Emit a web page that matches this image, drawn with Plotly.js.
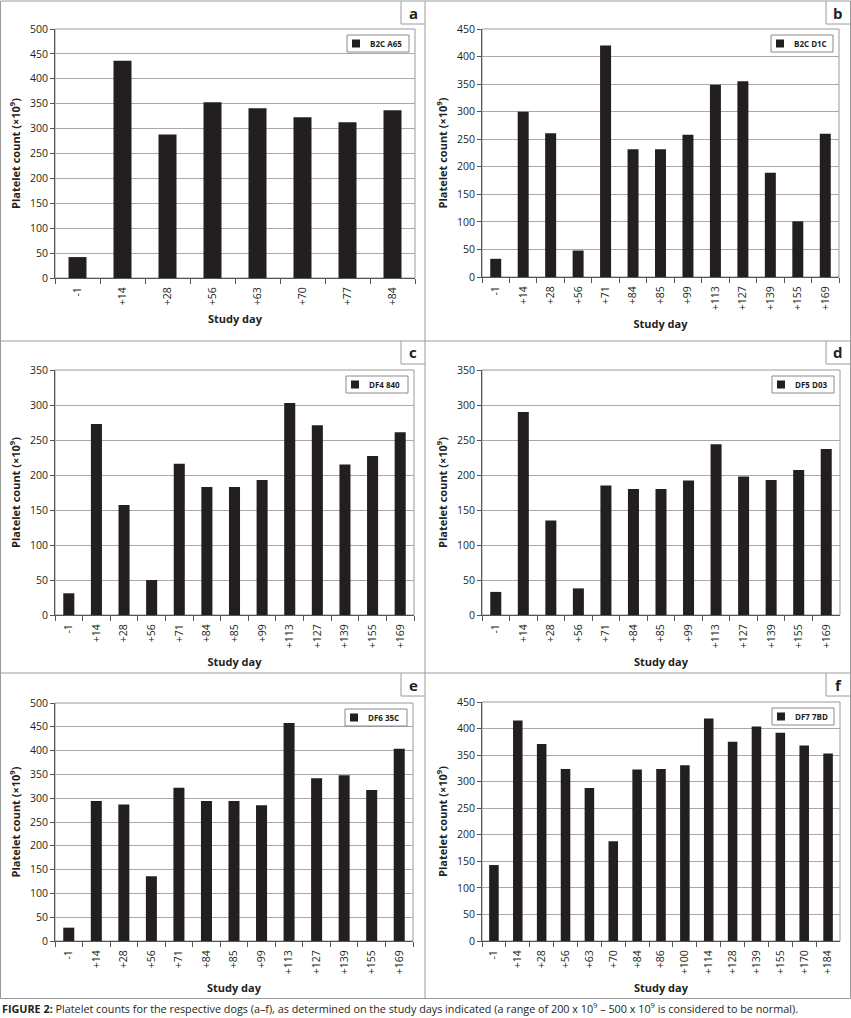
<!DOCTYPE html>
<html>
<head>
<meta charset="utf-8">
<script src="https://cdn.plot.ly/plotly-3.0.1.min.js"></script>
<style>
html,body{margin:0;padding:0;background:#fff;}
#chart{width:851px;height:1018px;}
</style>
</head>
<body>
<div id="chart"></div>
<script>
// ---------- data ----------
var panelLetters = ['a', 'b', 'c', 'd', 'e', 'f'];
var dogNames = ['B2C A65', 'B2C D1C', 'DF4 840', 'DF5 D03', 'DF6 35C', 'DF7 7BD'];

var daysA = ['-1', '+14', '+28', '+56', '+63', '+70', '+77', '+84'];
var daysBtoE = ['-1', '+14', '+28', '+56', '+71', '+84', '+85', '+99', '+113', '+127', '+139', '+155', '+169'];
var daysF = ['-1', '+14', '+28', '+56', '+63', '+70', '+84', '+86', '+100', '+114', '+128', '+139', '+155', '+170', '+184'];

var countsA = [42, 436, 288, 353, 341, 323, 313, 337];
var countsB = [33, 300, 261, 48, 420, 232, 232, 258, 349, 355, 189, 101, 260];
var countsC = [31, 273, 157, 50, 216, 183, 183, 193, 303, 271, 215, 227, 261];
var countsD = [33, 290, 135, 38, 185, 180, 180, 192, 244, 198, 193, 207, 237];
var countsE = [28, 294, 287, 136, 322, 294, 294, 285, 458, 342, 348, 317, 404];
var countsF = [143, 415, 371, 324, 288, 188, 323, 324, 331, 419, 375, 404, 392, 368, 353];

var yMax = [500, 450, 350, 350, 500, 450];

var captionText = '<b>FIGURE 2:</b> Platelet counts for the respective dogs (a–f), as determined on the study days indicated (a range of 200 x 10<sup>9</sup> – 500 x 10<sup>9</sup> is considered to be normal).';

// ---------- layout geometry (pixels) ----------
var W = 851, H = 1018;
var boxes = [
  {x0: 55, x1: 415, y0: 29, y1: 278},
  {x0: 482, x1: 839, y0: 29, y1: 277},
  {x0: 55, x1: 414, y0: 370, y1: 615},
  {x0: 482, x1: 840, y0: 370, y1: 615},
  {x0: 55, x1: 413, y0: 703, y1: 941},
  {x0: 482, x1: 840, y0: 702, y1: 941}
];
var panelTopEdges = [1, 1, 341, 341, 673, 673];
var panelRightEdges = [425, 850, 425, 850, 425, 850];

function px(x) { return x / W; }
function py(y) { return 1 - y / H; }

var allDays = [daysA, daysBtoE, daysBtoE, daysBtoE, daysBtoE, daysF];
var allCounts = [countsA, countsB, countsC, countsD, countsE, countsF];

var FONT = 'Open Sans, Liberation Sans, sans-serif';
var DARK = '#231f20';
var GRID = '#a8a8a8';
var BORDER = '#9a9a9a';

var traces = [];
var layout = {
  width: W, height: H,
  margin: {l: 0, r: 0, t: 0, b: 0},
  paper_bgcolor: '#fff',
  plot_bgcolor: '#fff',
  bargap: 0.6,
  showlegend: false,
  font: {family: FONT, color: DARK, size: 10},
  shapes: [],
  annotations: []
};

function line(x0, y0, x1, y1, color) {
  return {type: 'line', xref: 'paper', yref: 'paper',
    x0: px(x0), y0: py(y0), x1: px(x1), y1: py(y1),
    line: {color: color || BORDER, width: 1}};
}

(function build() {
  for (var i = 0; i < 6; i++) {
    var n = i === 0 ? '' : String(i + 1);
    var b = boxes[i];
    traces.push({
      type: 'bar',
      x: allDays[i],
      y: allCounts[i],
      name: dogNames[i],
      xaxis: 'x' + n,
      yaxis: 'y' + n,
      marker: {color: DARK, line: {width: 0}},
      hoverinfo: 'x+y'
    });
    layout['xaxis' + n] = {
      type: 'category',
      domain: [px(b.x0), px(b.x1)],
      anchor: 'y' + n,
      tickangle: -90,
      ticks: 'outside',
      tickson: 'boundaries',
      ticklen: 5,
      tickcolor: '#555',
      ticklabelstandoff: 4,
      showline: true,
      linecolor: '#555',
      linewidth: 1,
      showgrid: false,
      tickfont: {family: FONT, size: 10.5, color: DARK},
      title: {text: 'Study day', font: {family: FONT, size: 11, weight: 'bold', color: DARK}, standoff: 11},
      fixedrange: true
    };
    layout['yaxis' + n] = {
      domain: [py(b.y1), py(b.y0)],
      anchor: 'x' + n,
      range: [0, yMax[i]],
      dtick: 50,
      tick0: 0,
      ticks: 'outside',
      ticklen: 4,
      tickcolor: '#555',
      showline: true,
      linecolor: '#555',
      linewidth: 1,
      showgrid: true,
      gridcolor: GRID,
      gridwidth: 1,
      zeroline: false,
      tickfont: {family: FONT, size: 10.5, color: DARK},
      title: {text: 'Platelet count (×10<sup>9</sup>)', font: {family: FONT, size: 11, weight: 'bold', color: DARK}, standoff: 7},
      fixedrange: true
    };
    // plot area border (top/right)
    layout.shapes.push({
      type: 'rect', xref: 'paper', yref: 'paper',
      x0: px(b.x0), x1: px(b.x1), y0: py(b.y1), y1: py(b.y0),
      line: {color: BORDER, width: 1}, layer: 'below'
    });
    // legend box with marker
    var lx1 = b.x1 - 6, lx0 = lx1 - 62, ly0 = b.y0 + 6, ly1 = ly0 + 17;
    layout.shapes.push({
      type: 'rect', xref: 'paper', yref: 'paper',
      x0: px(lx0), x1: px(lx1), y0: py(ly1), y1: py(ly0),
      fillcolor: '#fff', line: {color: '#8a8a8a', width: 1}, layer: 'above'
    });
    layout.shapes.push({
      type: 'rect', xref: 'paper', yref: 'paper',
      x0: px(lx0 + 5), x1: px(lx0 + 13), y0: py(ly0 + 12.5), y1: py(ly0 + 4.5),
      fillcolor: DARK, line: {width: 0}, layer: 'above'
    });
    layout.annotations.push({
      xref: 'paper', yref: 'paper',
      x: px(lx0 + 21), y: py(ly0 + 8.5),
      xanchor: 'left', yanchor: 'middle',
      text: dogNames[i],
      showarrow: false,
      font: {family: FONT, size: 8, weight: 'bold', color: DARK}
    });
    // panel letter box
    var pr = panelRightEdges[i], pt = panelTopEdges[i];
    layout.shapes.push(line(pr - 24, pt, pr - 24, pt + 23));
    layout.shapes.push(line(pr - 24, pt + 23, pr, pt + 23));
    layout.annotations.push({
      xref: 'paper', yref: 'paper',
      x: px(pr - 12), y: py(pt + 11.5),
      xanchor: 'center', yanchor: 'middle',
      text: panelLetters[i],
      showarrow: false,
      font: {family: FONT, size: 15, weight: 'bold', color: DARK}
    });
  }
})();

// outer frame and panel dividers
layout.shapes.push(
  {type: 'rect', xref: 'paper', yref: 'paper', x0: px(0.5), x1: px(850.5), y0: py(998.5), y1: py(1), line: {color: BORDER, width: 1}},
  line(425, 1, 425, 998.5),
  line(0.5, 341, 850.5, 341),
  line(0.5, 673, 850.5, 673)
);

layout.annotations.push({
  xref: 'paper', yref: 'paper',
  x: 0, y: py(1008),
  xanchor: 'left', yanchor: 'middle',
  text: captionText,
  showarrow: false,
  font: {family: FONT, size: 10.8, color: DARK}
});

Plotly.newPlot('chart', traces, layout, {staticPlot: true, displayModeBar: false});
</script>
</body>
</html>
